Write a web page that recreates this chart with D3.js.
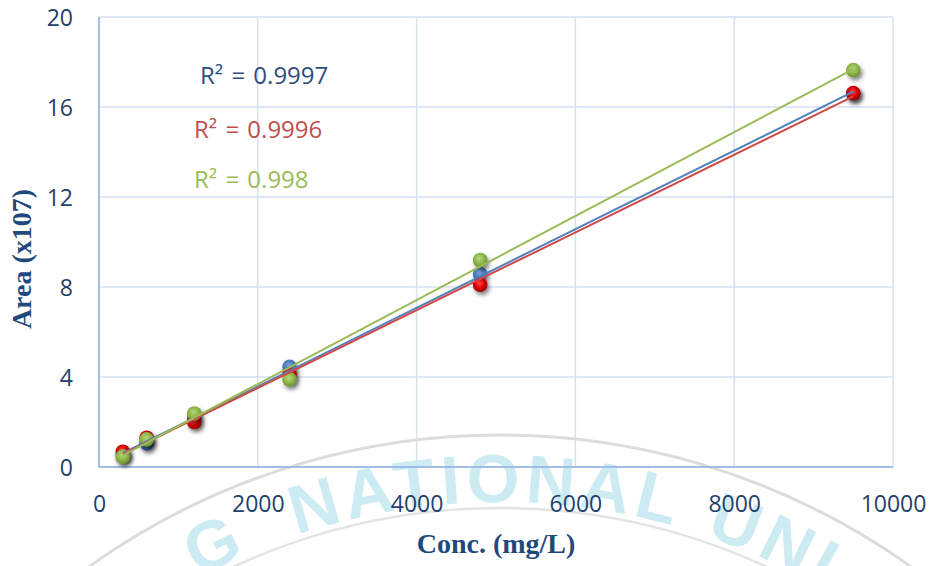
<!DOCTYPE html>
<html>
<head>
<meta charset="utf-8">
<script src="https://cdn.jsdelivr.net/npm/d3@7"></script>
<style>
  html, body { margin: 0; padding: 0; background: #ffffff; }
  svg { display: block; }
</style>
</head>
<body>
<svg id="chart" width="932" height="566"></svg>
<script>
// ---- data ----
const concentrations = [300, 600, 1200, 2400, 4800, 9500];
const blueArea  = [0.55, 1.05, 2.15, 4.45, 8.58, 16.6];
const redArea   = [0.68, 1.3, 2.0, 4.12, 8.1, 16.62];
const greenArea = [0.46, 1.23, 2.38, 3.9, 9.2, 17.64];
const r2Labels  = ["R\u00B2 = 0.9997", "R\u00B2 = 0.9996", "R\u00B2 = 0.998"];
const xTicks = [0, 2000, 4000, 6000, 8000, 10000];
const yTicks = [0, 4, 8, 12, 16, 20];
const xTitle = "Conc. (mg/L)";
const yTitle = "Area (x107)";
const watermarkWords = ["G", "NATIONAL", "UNI"];

(function () {
const series = [
  { values: blueArea,  marker: "#4a7dbb", markerDark: "#2f5a92", markerLight: "#7ea6d8", line: "#4f81bd", label: r2Labels[0], labelColor: "#2f4e7f", lx: 200, ly: 84 },
  { values: redArea,   marker: "#d80000", markerDark: "#9a0000", markerLight: "#ff4a4a", line: "#cf4a47", label: r2Labels[1], labelColor: "#c0504d", lx: 194, ly: 138 },
  { values: greenArea, marker: "#8fb84a", markerDark: "#6c8f30", markerLight: "#b5d77a", line: "#9bbb59", label: r2Labels[2], labelColor: "#9bbb59", lx: 194, ly: 188 }
];

const svg = d3.select("#chart");
const pL = 99, pR = 893, pT = 17, pB = 467;
const x = d3.scaleLinear().domain([0, 10000]).range([pL, pR]);
const y = d3.scaleLinear().domain([0, 20]).range([pB, pT]);

const defs = svg.append("defs");
const f = defs.append("filter").attr("id", "shadow").attr("x", "-50%").attr("y", "-50%").attr("width", "200%").attr("height", "200%");
f.append("feDropShadow").attr("dx", 2).attr("dy", 3).attr("stdDeviation", 2.2)
  .attr("flood-color", "#000").attr("flood-opacity", 0.5);
series.forEach((s, i) => {
  const g = defs.append("radialGradient").attr("id", "grad" + i)
    .attr("cx", "45%").attr("cy", "40%").attr("r", "60%");
  g.append("stop").attr("offset", "0%").attr("stop-color", s.markerLight);
  g.append("stop").attr("offset", "55%").attr("stop-color", s.marker);
  g.append("stop").attr("offset", "100%").attr("stop-color", s.markerDark);
});

// ---- watermark ----
const wm = svg.append("g").attr("class", "watermark");
const wcx = 500, wcy = 1142;
const deg = Math.PI / 180;
function arcPath(r, a0, a1) {
  const p = d3.path();
  p.arc(wcx, wcy, r, a0, a1);
  return p.toString();
}
wm.append("path").attr("d", arcPath(707, -150 * deg, -30 * deg))
  .attr("fill", "none").attr("stroke", "#dcdcdc").attr("stroke-width", 3);
wm.append("path").attr("d", arcPath(634, -150 * deg, -30 * deg))
  .attr("fill", "none").attr("stroke", "#e4e4e4").attr("stroke-width", 2.5);
const rText = 640, a0 = -160 * deg;
defs.append("path").attr("id", "wmpath").attr("d", arcPath(rText, a0, -20 * deg));
function offsetAt(px) {
  const ang = -Math.PI / 2 + Math.asin((px - wcx) / rText);
  return rText * (ang - a0);
}
const wordCenters = [224, 486, 766];
watermarkWords.forEach((w, i) => {
  wm.append("text")
    .attr("font-family", "Liberation Sans, Arial, sans-serif")
    .attr("font-weight", "bold").attr("font-size", 68)
    .attr("letter-spacing", 5)
    .attr("fill", "#cdebf3")
    .append("textPath").attr("href", "#wmpath")
    .attr("startOffset", offsetAt(wordCenters[i]))
    .attr("text-anchor", "middle")
    .text(w);
});

// ---- grid ----
const grid = svg.append("g");
grid.selectAll("line.vg").data(xTicks).join("line").attr("class", "vg")
  .attr("x1", d => x(d)).attr("x2", d => x(d)).attr("y1", pT).attr("y2", pB)
  .attr("stroke", "#d5e1f1").attr("stroke-width", 1.5);
grid.selectAll("line.hg").data(yTicks).join("line").attr("class", "hg")
  .attr("x1", pL).attr("x2", pR).attr("y1", d => y(d)).attr("y2", d => y(d))
  .attr("stroke", "#d5e1f1").attr("stroke-width", 1.5);
svg.append("line").attr("x1", pL).attr("x2", pR).attr("y1", pB).attr("y2", pB)
  .attr("stroke", "#8eb0df").attr("stroke-width", 1.5);
svg.append("line").attr("x1", pL).attr("x2", pL).attr("y1", pT).attr("y2", pB)
  .attr("stroke", "#8eb0df").attr("stroke-width", 1.5);

// ---- axes (labels) ----
const xAxis = d3.axisBottom(x).tickValues(xTicks).tickSize(0).tickPadding(0).tickFormat(d3.format("d"));
const gx = svg.append("g").attr("transform", `translate(0, ${pB})`).call(xAxis);
gx.select(".domain").remove();
gx.selectAll("text").attr("dy", null).attr("y", 45)
  .attr("font-family", "Open Sans, sans-serif").attr("font-size", 23).attr("fill", "#233f6c");

const yAxis = d3.axisLeft(y).tickValues(yTicks).tickSize(0).tickPadding(0).tickFormat(d3.format("d"));
const gy = svg.append("g").attr("transform", `translate(${pL}, 0)`).call(yAxis);
gy.select(".domain").remove();
gy.selectAll("text").attr("dy", null).attr("x", -26).attr("y", 8.5)
  .attr("font-family", "Open Sans, sans-serif").attr("font-size", 23).attr("fill", "#233f6c");

// ---- titles ----
svg.append("text").attr("x", 496).attr("y", 553).attr("text-anchor", "middle")
  .attr("font-family", "Liberation Serif, Times New Roman, serif").attr("font-weight", "bold")
  .attr("font-size", 28).attr("fill", "#1f497d").text(xTitle);
svg.append("text").attr("transform", "translate(31, 259) rotate(-90)").attr("text-anchor", "middle")
  .attr("font-family", "Liberation Serif, Times New Roman, serif").attr("font-weight", "bold")
  .attr("font-size", 28).attr("fill", "#1f497d").text(yTitle);

// ---- markers ----
series.forEach((s, i) => {
  svg.append("g").selectAll("circle").data(concentrations.map((c, j) => [c, s.values[j]]))
    .join("circle")
    .attr("cx", d => x(d[0])).attr("cy", d => y(d[1])).attr("r", 7.3)
    .attr("fill", `url(#grad${i})`).attr("filter", "url(#shadow)");
});

// ---- linear trend lines ----
function fit(xs, ys) {
  const n = xs.length;
  const mx = d3.mean(xs), my = d3.mean(ys);
  let sxy = 0, sxx = 0;
  for (let i = 0; i < n; i++) { sxy += (xs[i] - mx) * (ys[i] - my); sxx += (xs[i] - mx) ** 2; }
  const b = sxy / sxx;
  return { b, a: my - b * mx };
}
const xExt = d3.extent(concentrations);
const line = d3.line().x(d => x(d[0])).y(d => y(d[1]));
series.forEach(s => {
  const { a, b } = fit(concentrations, s.values);
  svg.append("path").attr("d", line(xExt.map(v => [v, a + b * v])))
    .attr("fill", "none").attr("stroke", s.line).attr("stroke-width", 2);
});

// ---- R² labels ----
series.forEach(s => {
  svg.append("text").attr("x", s.lx).attr("y", s.ly)
    .attr("font-family", "Open Sans, sans-serif").attr("font-size", 24)
    .attr("fill", s.labelColor).attr("word-spacing", 2).text(s.label);
});
})();
</script>
</body>
</html>
